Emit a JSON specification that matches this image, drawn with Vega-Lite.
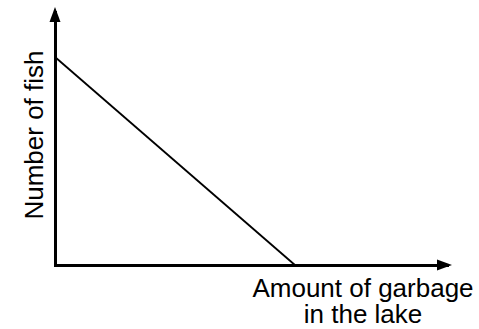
{
  "$schema": "https://vega.github.io/schema/vega-lite/v6.json",
  "width": 392,
  "height": 253,
  "autosize": "none",
  "padding": {"left": 55, "top": 12, "right": 32, "bottom": 64},
  "config": {
    "view": {"stroke": null},
    "font": "Liberation Sans",
    "axis": {
      "domain": true,
      "domainColor": "black",
      "domainWidth": 3,
      "domainCap": "square",
      "ticks": false,
      "labels": false,
      "grid": false,
      "titleColor": "black",
      "titleFont": "Liberation Sans",
      "titleFontWeight": "normal",
      "titleFontSize": 26
    }
  },
  "datasets": {
    "relation": [
      {"garbage": 0, "fish": 82.2},
      {"garbage": 61.2, "fish": 0}
    ],
    "arrows": [
      {"garbage": 0, "fish": 100, "axis": "y"},
      {"garbage": 100, "fish": 0, "axis": "x"}
    ]
  },
  "encoding": {
    "x": {
      "field": "garbage",
      "type": "quantitative",
      "scale": {"domain": [0, 100], "nice": false, "zero": false},
      "axis": {
        "title": ["Amount of garbage", "in the lake"],
        "titleX": 307.5,
        "titleY": 31,
        "titleAlign": "center",
        "titleBaseline": "alphabetic",
        "titleLineHeight": 26,
        "titleAnchor": null
      }
    },
    "y": {
      "field": "fish",
      "type": "quantitative",
      "scale": {"domain": [0, 100], "nice": false, "zero": false},
      "axis": {
        "title": "Number of fish",
        "titleX": -13,
        "titleY": 122.5,
        "titleAngle": -90,
        "titleAlign": "center",
        "titleBaseline": "alphabetic"
      }
    }
  },
  "layer": [
    {
      "data": {"name": "relation"},
      "mark": {"type": "line", "color": "black", "strokeWidth": 1.8}
    },
    {
      "data": {"name": "arrows"},
      "transform": [{"filter": "datum.axis === 'y'"}],
      "mark": {
        "type": "point",
        "shape": "M0,-0.333L0.367,0.667L-0.367,0.667Z",
        "size": 900,
        "filled": true,
        "color": "black",
        "opacity": 1,
        "strokeWidth": 0
      }
    },
    {
      "data": {"name": "arrows"},
      "transform": [{"filter": "datum.axis === 'x'"}],
      "mark": {
        "type": "point",
        "shape": "M0.333,0L-0.667,0.367L-0.667,-0.367Z",
        "size": 900,
        "filled": true,
        "color": "black",
        "opacity": 1,
        "strokeWidth": 0
      }
    }
  ]
}
